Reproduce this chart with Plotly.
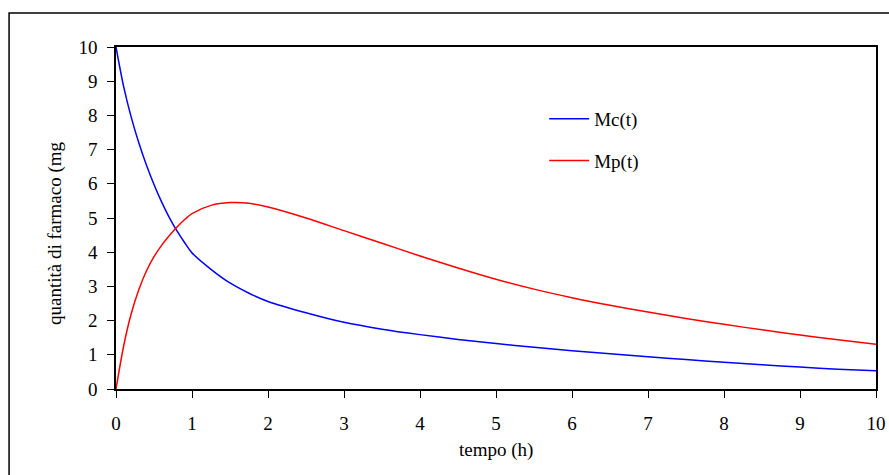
import plotly.graph_objects as go

# time (h)
t = [0, 0.1, 0.2, 0.3, 0.4, 0.5, 0.6, 0.7, 0.8, 0.9, 1.0, 1.25, 1.5, 1.75, 2.0,
     2.5, 3.0, 3.5, 4.0, 4.5, 5.0, 5.5, 6.0, 6.5, 7.0, 7.5, 8.0, 8.5, 9.0, 9.5, 10.0]

mc = [10.0, 8.85, 7.95, 7.2, 6.55, 5.98, 5.47, 5.02, 4.63, 4.29, 3.98, 3.5, 3.1, 2.8, 2.56,
      2.23, 1.95, 1.75, 1.59, 1.45, 1.33, 1.22, 1.12, 1.03, 0.94, 0.86, 0.78, 0.71, 0.64, 0.58, 0.53]

mp = [0.0, 1.25, 2.2, 2.9, 3.45, 3.87, 4.2, 4.48, 4.73, 4.95, 5.13, 5.37, 5.45, 5.43, 5.32,
      5.0, 4.63, 4.26, 3.89, 3.54, 3.21, 2.92, 2.67, 2.45, 2.25, 2.06, 1.89, 1.73, 1.58, 1.44, 1.31]

x_ticks = list(range(0, 11))
y_ticks = list(range(0, 11))

FONT = "Liberation Serif, Times New Roman, serif"

W, H = 889, 475
L, T = 116, 47
PLOT_W = 760.5
PLOT_H = 342
R = W - L - PLOT_W
B = H - T - PLOT_H

fig = go.Figure()
fig.add_trace(go.Scatter(x=t, y=mc, mode="lines", name="Mc(t)", legendgroup="a",
                         line=dict(color="#0000FF", width=1.5, shape="spline", smoothing=0.8)))
fig.add_trace(go.Scatter(x=t, y=mp, mode="lines", name="Mp(t)", legendgroup="b",
                         line=dict(color="#FF0000", width=1.5, shape="spline", smoothing=0.8)))

axis_common = dict(showgrid=False, zeroline=False, showline=True, mirror=True,
                   linecolor="black", linewidth=1.5, ticks="outside", ticklen=7,
                   tickcolor="black", tickwidth=1.2, automargin=False,
                   ticklabeloverflow="allow",
                   tickfont=dict(family=FONT, size=19, color="black"))

fig.update_xaxes(range=[0, 10], tickvals=x_ticks, ticklabelstandoff=9, **axis_common)
fig.update_yaxes(range=[0, 10], tickvals=y_ticks, ticklabelstandoff=6, **axis_common)

fig.update_layout(
    width=W, height=H, autosize=False,
    margin=dict(l=L, r=R, t=T, b=B, pad=0),
    paper_bgcolor="white", plot_bgcolor="white",
    showlegend=True,
    legend=dict(x=0.5634, y=0.845, xanchor="left", yanchor="top",
                font=dict(family=FONT, size=19, color="black"),
                bgcolor="rgba(0,0,0,0)", tracegroupgap=14, itemwidth=40),
    shapes=[dict(type="rect", xref="paper", yref="paper",
                 x0=(9 - L) / PLOT_W, x1=1.05, y0=-0.4, y1=(PLOT_H + T - 13) / PLOT_H,
                 line=dict(color="black", width=1.5), fillcolor="rgba(0,0,0,0)", layer="below")],
    annotations=[
        dict(text="tempo (h)", xref="paper", yref="paper", x=0.5, y=-61 / PLOT_H,
             showarrow=False, xanchor="center", yanchor="middle",
             font=dict(family=FONT, size=19, color="black")),
        dict(text="quantità di farmaco (mg", xref="paper", yref="paper",
             x=-61 / PLOT_W, y=(PLOT_H - 186) / PLOT_H, textangle=-90,
             showarrow=False, xanchor="center", yanchor="middle",
             font=dict(family=FONT, size=19, color="black")),
    ],
)

fig.write_html("out.html",
               config={"displayModeBar": False},
               post_script="document.body.style.margin='0';document.body.style.overflow='hidden';")
